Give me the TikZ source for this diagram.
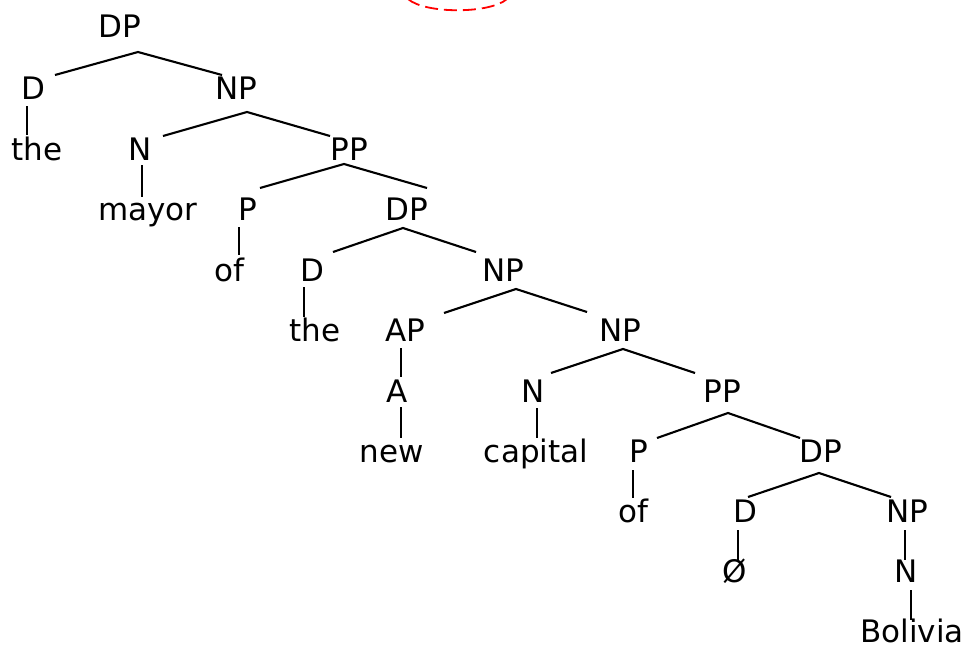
\documentclass[tikz,border=0pt]{standalone}
\usepackage{fontspec}
\setmainfont{DejaVu Sans}
\begin{document}
\begin{tikzpicture}[x=1pt,y=-1pt,
  lab/.style={anchor=base,inner sep=0pt,font=\fontsize{31}{36}\selectfont},
  edge/.style={line width=2.1pt,black},
  redmark/.style={red,line width=1.8pt,dash pattern=on 13pt off 6pt}]
\useasboundingbox (0,0) rectangle (966,648);
% labels
\node[lab] (dp0) at (120,37) {DP};
\node[lab] (d1) at (33,99) {D};
\node[lab] (np1) at (236,99) {NP};
\node[lab] (the2) at (37,160) {the};
\node[lab] (n2) at (140,160) {N};
\node[lab] (pp2) at (349,160) {PP};
\node[lab] (mayor3) at (148,220) {mayor};
\node[lab] (p3) at (248,220) {P};
\node[lab] (dp3) at (407,220) {DP};
\node[lab] (of4) at (229,281) {of};
\node[lab] (d4) at (312,281) {D};
\node[lab] (np4) at (503,281) {NP};
\node[lab] (the5) at (315,341) {the};
\node[lab] (ap5) at (405,341) {AP};
\node[lab] (np5) at (620,341) {NP};
\node[lab] (a6) at (397,402) {A};
\node[lab] (n6) at (533,402) {N};
\node[lab] (pp6) at (722,402) {PP};
\node[lab] (new7) at (392,462) {new};
\node[lab] (capital7) at (536,462) {capital};
\node[lab] (p7) at (639,462) {P};
\node[lab] (dp7) at (821,462) {DP};
\node[lab] (of8) at (633,522) {of};
\node[lab] (d8) at (745,522) {D};
\node[lab] (np8) at (907,522) {NP};
\node[lab] (null9) at (735,582) {Ø};
\node[lab] (n9) at (906,582) {N};
\node[lab] (bolivia10) at (912,642) {Bolivia};
% branching points and line ends
\coordinate (dp0-a) at (138,52);
\coordinate (d1-t) at (55,75);
\coordinate (np1-t) at (222,75);
\coordinate (np1-a) at (247,112);
\coordinate (n2-t) at (163,136);
\coordinate (pp2-t) at (330,136);
\coordinate (pp2-a) at (344,164);
\coordinate (p3-t) at (260,188);
\coordinate (dp3-t) at (427,188);
\coordinate (dp3-a) at (403,228);
\coordinate (d4-t) at (333,252);
\coordinate (np4-t) at (476,252);
\coordinate (np4-a) at (516,289);
\coordinate (ap5-t) at (444,313);
\coordinate (np5-t) at (587,312);
\coordinate (np5-a) at (623,349);
\coordinate (n6-t) at (551,373);
\coordinate (pp6-t) at (695,373);
\coordinate (pp6-a) at (728,413);
\coordinate (p7-t) at (657,438);
\coordinate (dp7-t) at (800,438);
\coordinate (dp7-a) at (819,473);
\coordinate (d8-t) at (748,497);
\coordinate (np8-t) at (891,497);
% vertical branch ends
\coordinate (d1-b) at (27,106);   \coordinate (the2-t) at (27,135);
\coordinate (n2-b) at (142,165);  \coordinate (mayor3-t) at (142,197);
\coordinate (p3-b) at (239,227);  \coordinate (of4-t) at (239,255);
\coordinate (d4-b) at (304,287);  \coordinate (the5-t) at (304,317);
\coordinate (ap5-b) at (401,348); \coordinate (a6-t) at (401,377);
\coordinate (a6-b) at (401,407);  \coordinate (new7-t) at (401,438);
\coordinate (n6-b) at (537,408);  \coordinate (capital7-t) at (537,438);
\coordinate (p7-b) at (633,470);  \coordinate (of8-t) at (633,498);
\coordinate (d8-b) at (738,530);  \coordinate (null9-t) at (738,562);
\coordinate (np8-b) at (905,530); \coordinate (n9-t) at (905,560);
\coordinate (n9-b) at (911,590);  \coordinate (bolivia10-t) at (911,620);
% branches
\draw[edge] (d1-t) -- (dp0-a) -- (np1-t);
\draw[edge] (n2-t) -- (np1-a) -- (pp2-t);
\draw[edge] (p3-t) -- (pp2-a) -- (dp3-t);
\draw[edge] (d4-t) -- (dp3-a) -- (np4-t);
\draw[edge] (ap5-t) -- (np4-a) -- (np5-t);
\draw[edge] (n6-t) -- (np5-a) -- (pp6-t);
\draw[edge] (p7-t) -- (pp6-a) -- (dp7-t);
\draw[edge] (d8-t) -- (dp7-a) -- (np8-t);
\draw[edge] (d1-b) -- (the2-t);
\draw[edge] (n2-b) -- (mayor3-t);
\draw[edge] (p3-b) -- (of4-t);
\draw[edge] (d4-b) -- (the5-t);
\draw[edge] (ap5-b) -- (a6-t);
\draw[edge] (a6-b) -- (new7-t);
\draw[edge] (n6-b) -- (capital7-t);
\draw[edge] (p7-b) -- (of8-t);
\draw[edge] (d8-b) -- (null9-t);
\draw[edge] (np8-b) -- (n9-t);
\draw[edge] (n9-b) -- (bolivia10-t);
% red dashed mark at the top
\coordinate (m-l) at (408,-1);
\coordinate (m-r) at (507,-1);
\draw[redmark] (m-l) .. controls (425,14) and (490,14) .. (m-r);
\end{tikzpicture}
\end{document}
